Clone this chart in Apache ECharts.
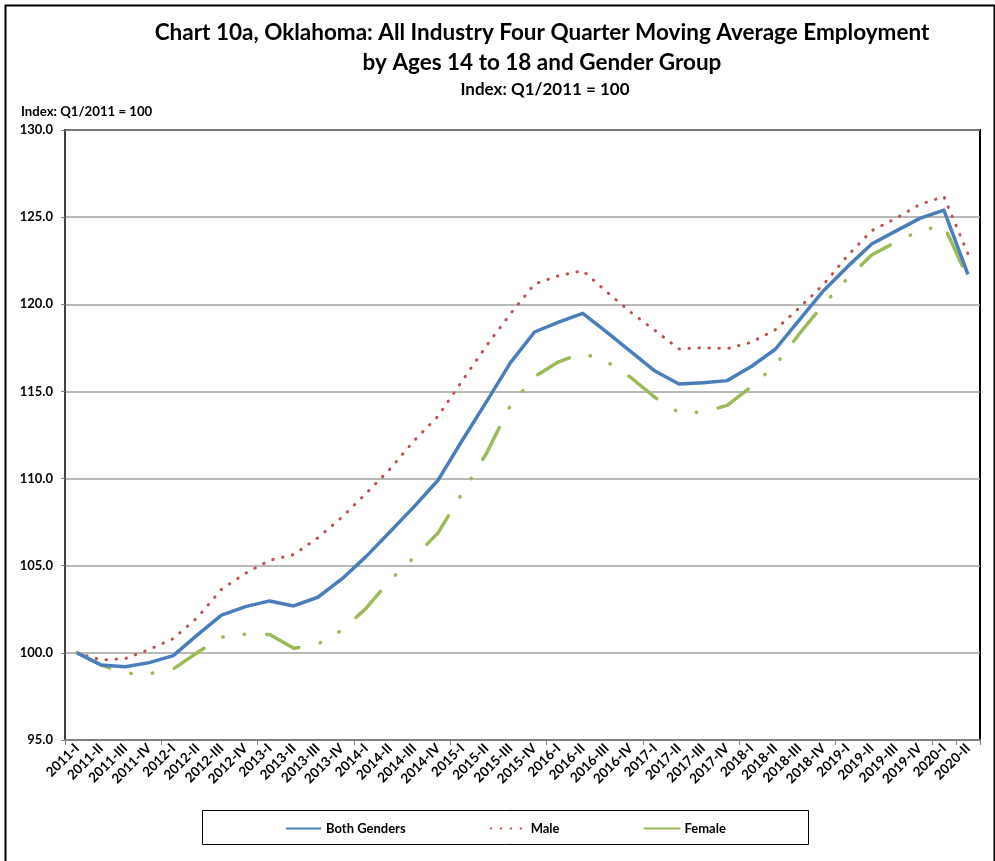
<!DOCTYPE html>
<html>
<head>
<meta charset="utf-8">
<script src="https://cdn.jsdelivr.net/npm/echarts@6/dist/echarts.min.js"></script>
<style>
html,body{margin:0;padding:0;background:#fff;}
#chart{width:995px;height:861px;}
</style>
</head>
<body>
<div id="chart"></div>
<script>
const categories = [
  "2011-I","2011-II","2011-III","2011-IV",
  "2012-I","2012-II","2012-III","2012-IV",
  "2013-I","2013-II","2013-III","2013-IV",
  "2014-I","2014-II","2014-III","2014-IV",
  "2015-I","2015-II","2015-III","2015-IV",
  "2016-I","2016-II","2016-III","2016-IV",
  "2017-I","2017-II","2017-III","2017-IV",
  "2018-I","2018-II","2018-III","2018-IV",
  "2019-I","2019-II","2019-III","2019-IV",
  "2020-I","2020-II"
];
const bothGenders = [
  100.0, 99.3, 99.2, 99.44, 99.84, 101.03, 102.17, 102.65, 102.98, 102.69,
  103.19, 104.24, 105.52, 106.95, 108.39, 109.92, 112.2, 114.4, 116.65, 118.41,
  118.98, 119.48, 118.4, 117.28, 116.17, 115.43, 115.5, 115.62, 116.43, 117.42,
  119.1, 120.78, 122.16, 123.46, 124.2, 124.93, 125.4, 121.72
];
const male = [
  100.0, 99.59, 99.67, 100.19, 100.82, 102.03, 103.65, 104.57, 105.31, 105.64,
  106.6, 107.78, 109.14, 110.55, 112.18, 113.59, 115.62, 117.61, 119.46, 121.16,
  121.64, 121.93, 120.71, 119.54, 118.5, 117.44, 117.51, 117.46, 117.82, 118.54,
  119.81, 121.13, 122.79, 124.22, 124.93, 125.73, 126.18, 122.9
];
const female = [
  100.0, 99.3, 98.83, 98.8, 99.08, 100.02, 100.9, 101.07, 101.05, 100.26,
  100.5, 101.3, 102.55, 104.18, 105.48, 106.9, 109.18, 111.44, 114.2, 115.85,
  116.7, 117.2, 116.7, 115.8, 114.66, 113.78, 113.82, 114.2, 115.27, 116.51,
  118.31, 119.99, 121.49, 122.83, 123.57, 124.22, 124.53, 121.5
];
const yTicks = { min: 95, max: 130, interval: 5 };

const FONT = 'Lato';
const chart = echarts.init(document.getElementById('chart'), null, {renderer: 'canvas'});
const option = {
  backgroundColor: '#fff',
  animation: false,
  title: [
    { text: 'Chart 10a, Oklahoma: All Industry Four Quarter Moving Average Employment\nby Ages 14 to 18 and Gender Group',
      left: 537, top: 13, textAlign: 'center',
      textStyle: { fontFamily: FONT, fontWeight: 'bold', fontSize: 22.5, lineHeight: 30, color: '#000' } },
    { text: 'Index: Q1/2011 = 100', left: 540, top: 76, textAlign: 'center',
      textStyle: { fontFamily: FONT, fontWeight: 'bold', fontSize: 17, color: '#000' } },
    { text: 'Index: Q1/2011 = 100', left: 16, top: 100,
      textStyle: { fontFamily: FONT, fontWeight: 'bold', fontSize: 13.2, color: '#000' } }
  ],
  graphic: [
    { type: 'rect', left: 3, top: 3, shape: { width: 989, height: 880 },
      style: { fill: 'none', stroke: '#000', lineWidth: 2 }, silent: true },
    { type: 'rect', left: 200, top: 808, shape: { width: 606, height: 34 },
      style: { fill: 'none', stroke: '#000', lineWidth: 1 }, silent: true }
  ],
  legend: {
    top: 817, left: 280,
    itemWidth: 35, itemHeight: 12, itemGap: 84,
    itemStyle: { opacity: 0 },
    textStyle: { fontFamily: FONT, fontWeight: 'bold', fontSize: 13, color: '#000' },
    data: ['Both Genders', 'Male', 'Female']
  },
  grid: { left: 65, right: 15, top: 130, bottom: 121, show: true, borderColor: '#000', borderWidth: 2, containLabel: false },
  xAxis: {
    type: 'category', data: categories, boundaryGap: true,
    axisLine: { lineStyle: { color: '#808080', width: 2 } },
    axisTick: { show: true, interval: 3, length: 5, lineStyle: { color: '#808080' } },
    axisLabel: { interval: 0, rotate: 45, margin: 6, fontFamily: FONT, fontWeight: 'bold', fontSize: 13.5, color: '#000' }
  },
  yAxis: {
    type: 'value', min: yTicks.min, max: yTicks.max, interval: yTicks.interval,
    axisLine: { show: true, lineStyle: { color: '#404040', width: 2 } },
    axisTick: { show: true, length: 4, lineStyle: { color: '#808080' } },
    axisLabel: { margin: 12, fontFamily: FONT, fontWeight: 'bold', fontSize: 13, color: '#000',
      formatter: v => v.toFixed(1) },
    splitLine: { lineStyle: { color: '#a0a0a0', width: 1.5 } }
  },
  series: [
    { name: 'Both Genders', type: 'line', data: bothGenders, symbol: 'none', z: 3,
      itemStyle: { color: '#4A7EBB' },
      lineStyle: { color: '#4A7EBB', width: 3.5, join: 'round' } },
    { name: 'Male', type: 'line', data: male, symbol: 'none', z: 2,
      itemStyle: { color: '#C0504D' },
      lineStyle: { color: '#C0504D', width: 3, type: [0.5, 9.5], cap: 'round' } },
    { name: 'Female', type: 'line', data: female, symbol: 'none', z: 2,
      itemStyle: { color: '#9BBB59' },
      lineStyle: { color: '#9BBB59', width: 3.5, type: [36, 22, 0.5, 21, 0.5, 22], cap: 'round', join: 'round' } }
  ]
};
chart.setOption(option);
</script>
</body>
</html>
